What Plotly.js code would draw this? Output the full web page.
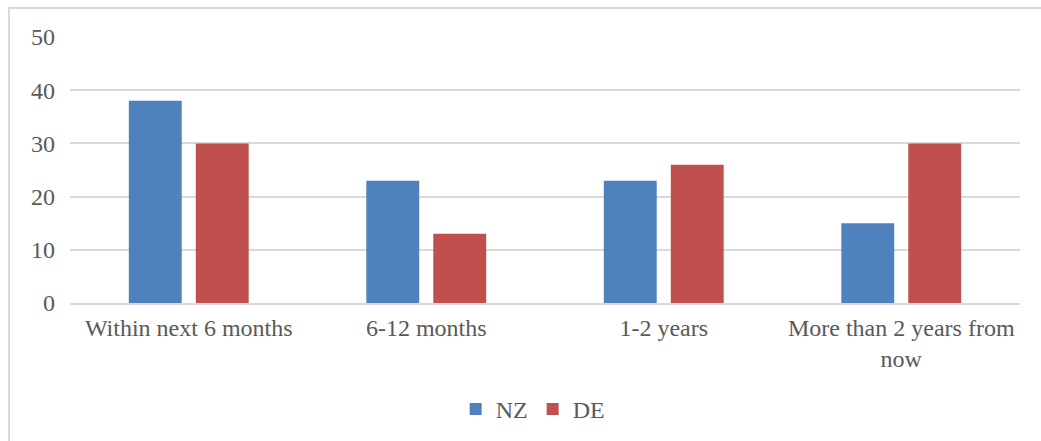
<!DOCTYPE html>
<html>
<head>
<meta charset="utf-8">
<script src="https://cdn.plot.ly/plotly-3.0.1.min.js"></script>
<style>
  html, body { margin: 0; padding: 0; background: #fff; }
  #frame { position: absolute; left: 8px; top: 7px; width: 1100px; height: 500px;
           border-left: 2px solid #d9d9d9; border-top: 2px solid #d9d9d9; box-sizing: border-box; }
  #chart { position: absolute; left: 0; top: 0; width: 1041px; height: 441px; }
</style>
</head>
<body>
<div id="frame"></div>
<div id="chart"></div>
<script>
const categories = ["Within next 6 months", "6-12 months", "1-2 years", "More than 2 years from<br>now"];
const nzValues = [38, 23, 23, 15];
const deValues = [30, 13, 26, 30];
const yTicks = [0, 10, 20, 30, 40, 50];

const font = {family: 'Liberation Serif, Times New Roman, serif', size: 24, color: '#595959'};

const traces = [
  {type: 'bar', name: 'NZ', x: categories, y: nzValues, marker: {color: '#4F81BD'}, hoverinfo: 'none'},
  {type: 'bar', name: 'DE', x: categories, y: deValues, marker: {color: '#C0504D'}, hoverinfo: 'none'}
];

const layout = {
  width: 1041, height: 441,
  margin: {l: 70, r: 21, t: 37, b: 138, autoexpand: false},
  paper_bgcolor: 'rgba(0,0,0,0)',
  plot_bgcolor: 'rgba(0,0,0,0)',
  font: font,
  barmode: 'group',
  bargap: 0.436,
  bargroupgap: 0.21,
  xaxis: {
    type: 'category',
    showgrid: false,
    showline: true, linecolor: '#d9d9d9', linewidth: 2,
    ticks: '', tickfont: font,
    ticklabelstandoff: 2
  },
  yaxis: {
    range: [0, 50],
    tickvals: yTicks,
    showgrid: true, gridcolor: '#d9d9d9', gridwidth: 2,
    zeroline: false, showline: false,
    ticks: '', tickfont: font,
    ticklabelstandoff: 14
  },
  showlegend: true,
  legend: {
    orientation: 'h', x: 0.487, xanchor: 'center', y: -0.40, yanchor: 'middle',
    font: font, itemwidth: 30, traceorder: 'normal'
  }
};

Plotly.newPlot('chart', traces, layout, {staticPlot: true, displayModeBar: false});
</script>
</body>
</html>
